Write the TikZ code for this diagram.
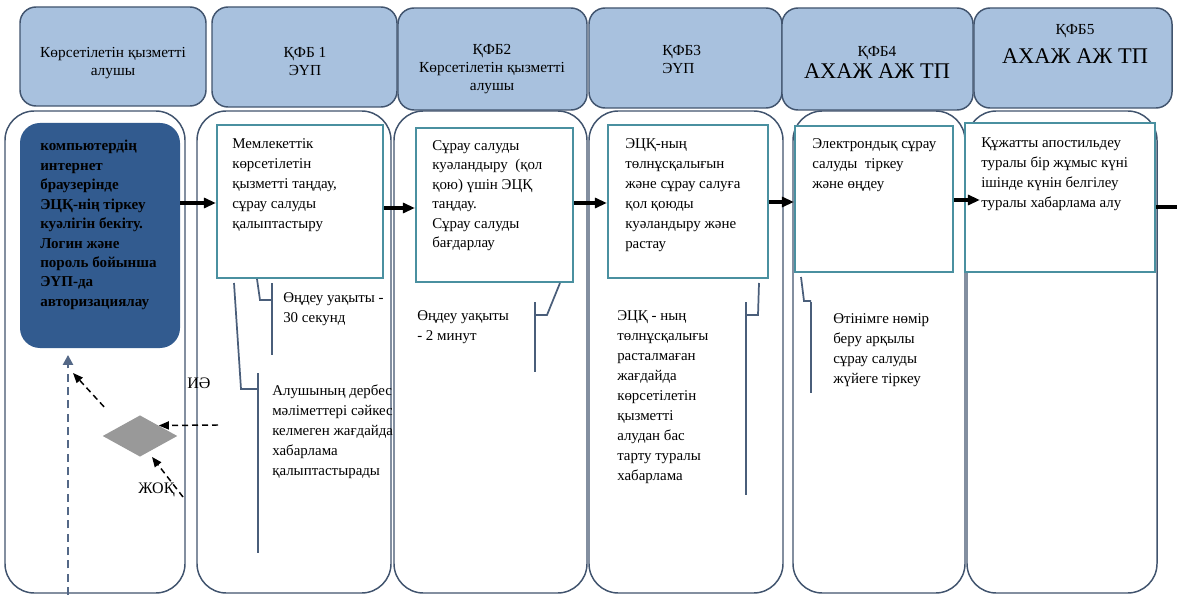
\documentclass[tikz,border=0pt]{standalone}
\usepackage{fontspec}
\setmainfont{Liberation Serif}
\usetikzlibrary{shapes.geometric, arrows.meta, fit}

\definecolor{hdrfill}{RGB}{168,193,222}
\definecolor{edgeblue}{RGB}{65,84,110}
\definecolor{darkbox}{RGB}{50,91,143}
\definecolor{boxteal}{RGB}{74,144,160}
\definecolor{calloutblue}{RGB}{74,94,122}
\definecolor{diagray}{RGB}{153,153,153}
\definecolor{flowblue}{RGB}{84,104,135}

\begin{document}
\begin{tikzpicture}[x=0.75pt,y=0.75pt,yscale=-1,xscale=1,
  lane/.style={draw=edgeblue, line width=1.1pt, fill=white, rounded corners=22pt, inner sep=0pt},
  header/.style={draw=edgeblue, line width=1.1pt, fill=hdrfill, rounded corners=12pt, inner sep=0pt},
  stepbox/.style={draw=boxteal, line width=1.6pt, fill=white, inner sep=0pt},
  htxt/.style={inner sep=0pt, align=center, font=\fontsize{11.5}{13.5}\selectfont},
  txt/.style={anchor=north west, inner sep=0pt, align=left, font=\fontsize{11.2}{15}\selectfont},
  flow/.style={line width=2.4pt, -{Triangle[length=9pt,width=7.5pt]}},
  dasharrow/.style={line width=1.1pt, dash pattern=on 4.5pt off 3pt, -{Triangle[length=7.5pt,width=6pt]}},
  leader/.style={draw=calloutblue, line width=1.3pt}
]
\useasboundingbox (0,0) rectangle (1177,595);
\fill [white] (0,0) rectangle (1177,595);

%Shape: Rounded Rectangle [lanes]
\node [lane, fit={(5,111) (185,593)}] (L1) {};
\node [lane, fit={(197,111) (391,593)}] (L2) {};
\node [lane, fit={(394,111) (587,593)}] (L3) {};
\node [lane, fit={(589,111) (783,593)}] (L4) {};
\node [lane, fit={(793,111) (965,593)}] (L5) {};
\node [lane, fit={(967,111) (1157,593)}] (L6) {};

%Shape: Rounded Rectangle [headers]
\node [header, fit={(20,7) (206,106)}] (H1) {};
\node [header, fit={(212,7) (397,107)}] (H2) {};
\node [header, fit={(398,8) (587,110)}] (H3) {};
\node [header, fit={(589,8) (782,108)}] (H4) {};
\node [header, fit={(782,8) (973,110)}] (H5) {};
\node [header, fit={(974,8) (1172,108)}] (H6) {};

%Shape: Rectangle [steps]
\node [fill=darkbox, rounded corners=15pt, inner sep=0pt, fit={(20,123) (180,348)}] (B1) {};
\node [stepbox, fit={(217,125) (383,278)}] (B2) {};
\node [stepbox, fit={(416,128) (573,282)}] (B3) {};
\node [stepbox, fit={(608,125) (768,278)}] (B4) {};
\node [stepbox, fit={(795,126) (953,272)}] (B5) {};
\node [stepbox, fit={(965,123) (1155,272)}] (B6) {};

%Shape: Diamond
\node [diamond, fill=diagray, inner sep=0pt, minimum width=56pt, minimum height=31pt] (D) at (140,436) {};

%Straight Lines [flow]
\coordinate (r1) at (0,203);
\coordinate (r2) at (0,208);
\coordinate (r3) at (0,203);
\coordinate (r4) at (0,202);
\coordinate (r5) at (0,200);
\coordinate (out) at (1177,207);
\draw [flow] (B1.east |- r1) -- (B2.west |- r1);
\draw [flow] (B2.east |- r2) -- (B3.west |- r2);
\draw [flow] (B3.east |- r3) -- (B4.west |- r3);
\draw [flow] (B4.east |- r4) -- (B5.west |- r4);
\draw [flow, shorten >=-12pt] (B5.east |- r5) -- (B6.west |- r5);
\draw [line width=2.4pt] (B6.east |- out) -- (out);

%Straight Lines [dashed]
\coordinate (c0) at (68,595);
\coordinate (c1) at (218,425);
\coordinate (c2) at (73,373);
\coordinate (c3) at (183,497);
\draw [flowblue, line width=1.8pt, dash pattern=on 6pt off 4pt, shorten >=5pt, -{Triangle[length=7.5pt,width=7.5pt]}] (c0) -- (c0 |- B1.south);
\draw [dasharrow] (c1) -- (D.north east);
\draw [dasharrow, shorten <=19pt] (D.north west) -- (c2);
\draw [dasharrow] (c3) -- ([xshift=9pt]D.south);

%Shape: Callouts
\draw [leader] (272,283) -- (272,355);
\draw [leader] (257,279) -- (260,300) -- (272,300);
\draw [leader] (258,373) -- (258,553);
\draw [leader] (234,283) -- (241,389) -- (258,389);
\draw [leader] (535,302) -- (535,372);
\draw [leader] (560,283) -- (547,315) -- (535,315);
\draw [leader] (746,302) -- (746,495);
\draw [leader] (759,283) -- (758,315) -- (746,315);
\draw [leader] (811,302) -- (811,393);
\draw [leader] (801,277) -- (804,301) -- (811,301);

% Text Node
\draw (113,63) node (h1t) [htxt] {Көрсетілетін қызметті\\алушы};
% Text Node
\draw (305,62) node (h2t) [htxt] {ҚФБ 1\\ЭҮП};
% Text Node
\draw (492,69) node (h3t) [htxt] {ҚФБ2\\Көрсетілетін қызметті\\алушы};
% Text Node
\draw (662,60) node (h4t) [htxt, anchor=west, align=left] {ҚФБ3\\ЭҮП};
% Text Node
\draw (877,62) node (h5t) [htxt] {ҚФБ4\\[2pt]{\fontsize{16.8}{18}\selectfont АХАЖ АЖ ТП}};
% Text Node
\draw (1075,44) node (h6t) [htxt] {ҚФБ5\\[7pt]{\fontsize{16.8}{18}\selectfont АХАЖ АЖ ТП}};

% Text Node
\draw (40,140) node (t1) [txt, font=\fontsize{11.3}{14.6}\selectfont\bfseries] {компьютердің\\интернет\\браузерінде\\ЭЦҚ-нің тіркеу\\куәлігін бекіту.\\Логин және\\пороль бойынша\\ЭҮП-да\\авторизациялау};
% Text Node
\draw (232,138) node (t2) [txt] {Мемлекеттік\\көрсетілетін\\қызметті таңдау,\\сұрау салуды\\қалыптастыру};
% Text Node
\draw (432,140) node (t3) [txt, font=\fontsize{11.2}{14.6}\selectfont] {Сұрау салуды\\куәландыру~ (қол\\қою) үшін ЭЦҚ\\таңдау.\\Сұрау салуды\\бағдарлау};
% Text Node
\draw (625,138) node (t4) [txt] {ЭЦҚ-ның\\төлнұсқалығын\\және сұрау салуға\\қол қоюды\\куәландыру және\\растау};
% Text Node
\draw (812,138) node (t5) [txt] {Электрондық сұрау\\салуды~ тіркеу\\және өңдеу};
% Text Node
\draw (981,137) node (t6) [txt] {Құжатты апостильдеу\\туралы бір жұмыс күні\\ішінде күнін белгілеу\\туралы хабарлама алу};

% Text Node
\draw (283,292) node (n1) [txt] {Өңдеу уақыты -\\30 секунд};
% Text Node
\draw (272,385) node (n2) [txt] {Алушының дербес\\мәліметтері сәйкес\\келмеген жағдайда\\хабарлама\\қалыптастырады};
% Text Node
\draw (417,310) node (n3) [txt] {Өңдеу уақыты\\- 2 минут};
% Text Node
\draw (617,310) node (n4) [txt] {ЭЦҚ - ның\\төлнұсқалығы\\расталмаған\\жағдайда\\көрсетілетін\\қызметті\\алудан бас\\тарту туралы\\хабарлама};
% Text Node
\draw (833,313) node (n5) [txt] {Өтінімге нөмір\\беру арқылы\\сұрау салуды\\жүйеге тіркеу};

% Text Node
\draw (187,378) node (yes) [anchor=north west][inner sep=0pt] {\fontsize{12}{14}\selectfont ИӘ};
% Text Node
\draw (138,483) node (no) [anchor=north west][inner sep=0pt] {\fontsize{12}{14}\selectfont ЖОҚ};

\end{tikzpicture}
\end{document}
